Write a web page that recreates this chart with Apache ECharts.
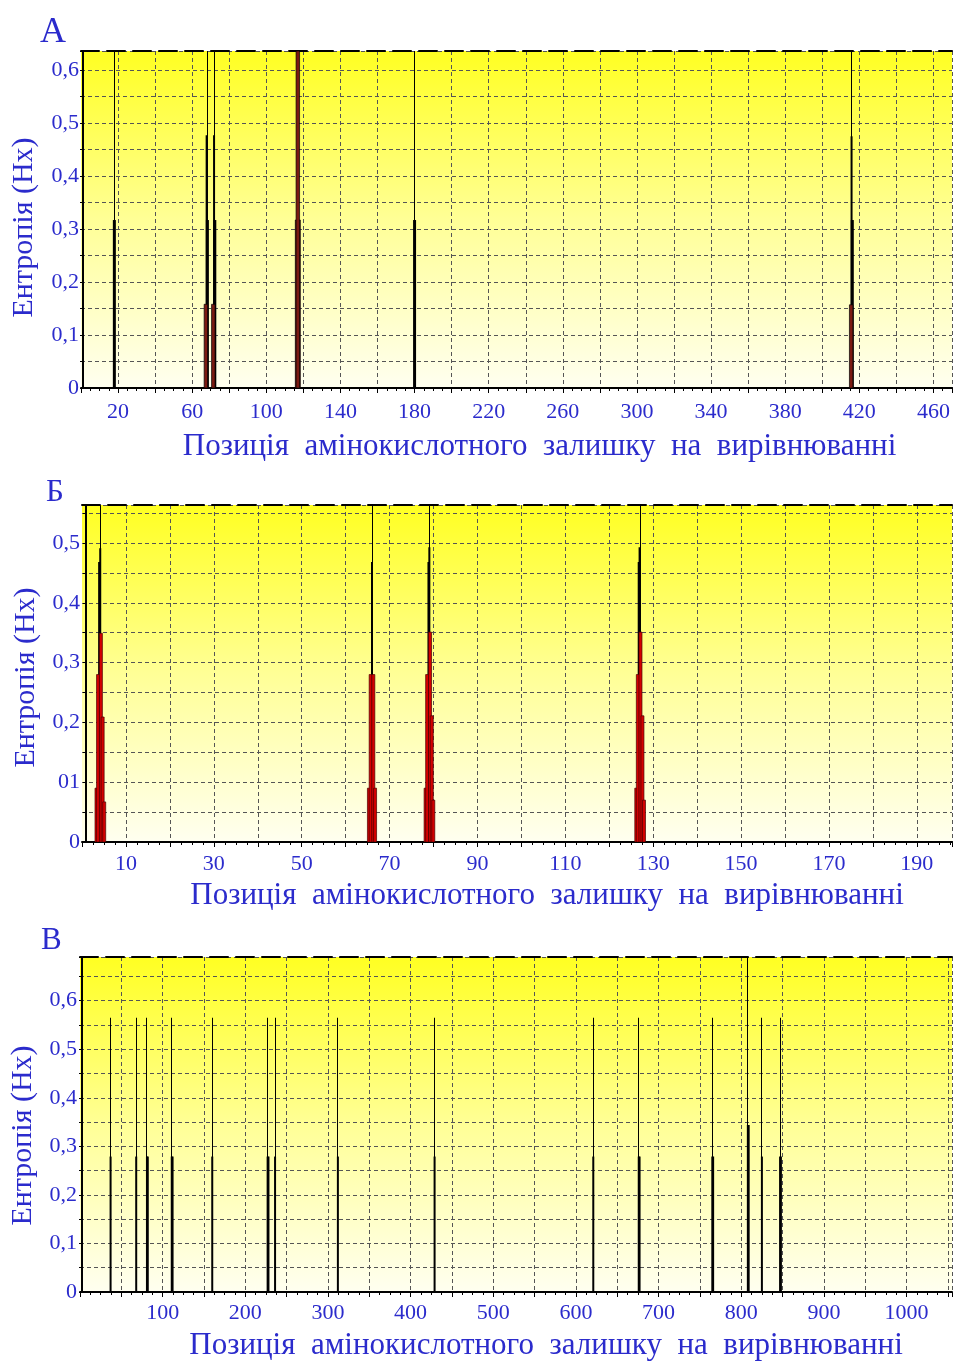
<!DOCTYPE html>
<html>
<head>
<meta charset="utf-8">
<title>Ентропія</title>
<script src="https://cdn.jsdelivr.net/npm/echarts@6/dist/echarts.min.js"></script>
<style>
  html, body { margin: 0; padding: 0; background: #fff; }
  #chart { width: 955px; height: 1362px; }
</style>
</head>
<body>
<div id="chart"></div>
<script>
// ---- Панель А ----
const xLabelsA = [20, 60, 100, 140, 180, 220, 260, 300, 340, 380, 420, 460];
const yTicksA = [0, 0.1, 0.2, 0.3, 0.4, 0.5, 0.6];
const yLabelsA = ['0', '0,1', '0,2', '0,3', '0,4', '0,5', '0,6'];
const lineXA = [18, 68, 72, 180, 416];
const lineYA = [0.636, 0.636, 0.636, 0.636, 0.636];
const peakXA = [67.8, 71.8, 415.8];
const peakYA = [0.477, 0.477, 0.475];
const blackXA = [18, 68.2, 72.2, 117, 180, 416.2];
const blackYA = [0.317, 0.317, 0.317, 0.317, 0.317, 0.317];
const redWideXA = [117];
const redWideYA = [0.317];
const redXA = [67.4, 71.4, 117, 415.6];
const redYA = [0.158, 0.158, 0.636, 0.157];

// ---- Панель Б ----
const xLabelsB = [10, 30, 50, 70, 90, 110, 130, 150, 170, 190];
const yTicksB = [0, 0.1, 0.2, 0.3, 0.4, 0.5];
const yLabelsB = ['0', '01', '0,2', '0,3', '0,4', '0,5'];
const lineXB = [4.1, 66.0, 79.0, 127.0];
const lineYB = [0.563, 0.563, 0.563, 0.563];
const blackXB = [3.9, 4.15, 66.0, 78.85, 79.05, 126.7, 126.9];
const blackYB = [0.468, 0.491, 0.468, 0.468, 0.493, 0.468, 0.493];
const redXB = [3.3, 3.65, 4.3, 4.7, 5.05,
               65.3, 65.7, 66.3, 66.7,
               78.2, 78.55, 79.2, 79.6, 79.95,
               126.15, 126.5, 127.1, 127.55, 127.9];
const redYB = [0.09, 0.28, 0.349, 0.209, 0.067,
               0.09, 0.28, 0.28, 0.09,
               0.09, 0.28, 0.351, 0.211, 0.07,
               0.09, 0.28, 0.351, 0.211, 0.07];

// ---- Панель В ----
const xLabelsC = [100, 200, 300, 400, 500, 600, 700, 800, 900, 1000];
const yTicksC = [0, 0.1, 0.2, 0.3, 0.4, 0.5, 0.6];
const yLabelsC = ['0', '0,1', '0,2', '0,3', '0,4', '0,5', '0,6'];
const lineXC = [37, 68, 81, 111, 160, 227, 236, 312, 429, 621, 676, 765, 808, 825, 847];
const lineYC = [0.565, 0.565, 0.565, 0.565, 0.565, 0.565, 0.565, 0.565, 0.565,
                0.565, 0.565, 0.565, 0.69, 0.565, 0.565];
const blackXC = [37, 68, 81, 82, 111, 112, 160, 227, 228, 236, 312, 429, 621,
                 676, 677, 765, 766, 808, 809, 825, 847, 848];
const blackYC = [0.279, 0.279, 0.279, 0.279, 0.279, 0.279, 0.279, 0.279, 0.279, 0.279,
                 0.279, 0.279, 0.279, 0.279, 0.279, 0.279, 0.279, 0.344, 0.344, 0.279,
                 0.279, 0.279];

const BLUE = '#2b2bcc';
const FONT = "'Liberation Serif', 'DejaVu Serif', serif";
const X_NAME = 'Позиція  амінокислотного  залишку  на  вирівнюванні';
const Y_NAME = 'Ентропія (Hx)';

const chart = echarts.init(document.getElementById('chart'));

function pickLabel(ticks, labels) {
  return function (v) {
    for (let i = 0; i < ticks.length; i++) {
      if (Math.abs(v - ticks[i]) < 1e-6) return String(labels[i]);
    }
    return '';
  };
}

function pairs(xs, ys) {
  return xs.map((x, i) => [x, ys[i]]);
}

// вертикальна смужка від нуля до значення
function spike(width, fill, stroke) {
  return function (params, api) {
    const b = api.coord([api.value(0), 0]);
    const t = api.coord([api.value(0), api.value(1)]);
    const x = width <= 1 ? Math.floor(b[0]) : b[0] - width / 2;
    return {
      type: 'rect',
      shape: { x: x, y: t[1], width: width, height: b[1] - t[1] },
      style: { fill: fill, stroke: stroke || null, lineWidth: stroke ? 0.7 : 0 }
    };
  };
}

const gridBg = new echarts.graphic.LinearGradient(0, 0, 0, 1, [
  { offset: 0, color: '#ffff22' },
  { offset: 0.5, color: '#ffff96' },
  { offset: 1, color: '#fffff0' }
]);

const option = {
  animation: false,
  backgroundColor: '#fff',
  title: [],
  grid: [],
  xAxis: [],
  yAxis: [],
  series: []
};

function addPanel(p) {
  const g = option.grid.length;
  option.title.push({
    text: p.letter, left: p.letterLeft, top: p.letterTop, padding: 0,
    textStyle: { color: BLUE, fontFamily: FONT, fontWeight: 'normal', fontSize: p.letterSize }
  });
  option.grid.push({
    left: p.left, top: p.top, right: 0, height: 337,
    show: true, borderWidth: 0, backgroundColor: gridBg
  });
  option.xAxis.push({
    type: 'value', gridIndex: g, position: 'bottom',
    min: 0, max: p.xMax, interval: p.xStep,
    axisLine: { show: true, onZero: false, lineStyle: { color: '#000', width: 2 } },
    axisTick: { show: true, length: 5, lineStyle: { color: '#000' } },
    minorTick: { show: true, splitNumber: 4, length: 3, lineStyle: { color: '#000' } },
    axisLabel: {
      formatter: pickLabel(p.xLabels, p.xLabels),
      color: BLUE, fontFamily: FONT, fontSize: 22, margin: p.xMargin
    },
    splitLine: {
      show: true, showMinLine: false,
      lineStyle: { color: '#555', width: 1, type: [4, 3] }
    },
    name: X_NAME, nameLocation: 'middle', nameGap: p.xNameGap,
    nameTextStyle: {
      color: BLUE, fontFamily: FONT, fontSize: 31,
      padding: [0, 0, 0, p.xNameShift * 2]
    }
  });
  option.xAxis.push({
    type: 'value', gridIndex: g, position: 'top', min: 0, max: p.xMax,
    axisLine: { show: true, onZero: false, lineStyle: { color: '#000', width: 2, type: [18, 8] } },
    axisTick: { show: false },
    axisLabel: { show: false },
    splitLine: { show: false }
  });
  option.yAxis.push({
    type: 'value', gridIndex: g, min: 0, max: p.yMax, interval: 0.05, offset: p.yOffset,
    axisLine: { show: true, lineStyle: { color: '#000', width: 2 } },
    axisTick: { show: true, length: 3, lineStyle: { color: '#000' } },
    axisLabel: {
      formatter: pickLabel(p.yTicks, p.yLabels),
      color: BLUE, fontFamily: FONT, fontSize: 22, margin: p.yMargin,
      padding: [0, 0, p.yLift, 0]
    },
    splitLine: { show: true, lineStyle: { color: '#555', width: 1, type: [4, 3] } },
    name: Y_NAME, nameLocation: 'middle', nameGap: p.yNameGap,
    nameTextStyle: {
      color: BLUE, fontFamily: FONT, fontSize: 30,
      padding: [0, p.yNameShift * 2, 0, 0]
    }
  });
  p.layers.forEach((layer, i) => {
    option.series.push({
      type: 'custom', xAxisIndex: g * 2, yAxisIndex: g,
      clip: true, silent: true, z: 2 + i,
      renderItem: spike(layer.width, layer.fill, layer.stroke),
      data: pairs(layer.xs, layer.ys)
    });
  });
}

addPanel({
  letter: 'А', letterLeft: 40, letterTop: 15, letterSize: 36,
  left: 81, top: 51, xMax: 470, xStep: 20, yMax: 0.636, yOffset: -2,
  xLabels: xLabelsA, yTicks: yTicksA, yLabels: yLabelsA,
  xMargin: 13, yMargin: 4, yLift: 8, xNameGap: 43, xNameShift: 23,
  yNameGap: 44, yNameShift: 8,
  layers: [
    { xs: lineXA, ys: lineYA, width: 1, fill: '#000' },
    { xs: peakXA, ys: peakYA, width: 2, fill: '#000' },
    { xs: blackXA, ys: blackYA, width: 3, fill: '#000' },
    { xs: redWideXA, ys: redWideYA, width: 5, fill: '#7a1a12', stroke: '#000' },
    { xs: redXA, ys: redYA, width: 3.5, fill: '#7a1a12', stroke: '#000' }
  ]
});

addPanel({
  letter: 'Б', letterLeft: 46, letterTop: 477, letterSize: 31,
  left: 82, top: 505, xMax: 198, xStep: 10, yMax: 0.5635, yOffset: -4,
  xLabels: xLabelsB, yTicks: yTicksB, yLabels: yLabelsB,
  xMargin: 11, yMargin: 6, yLift: 11, xNameGap: 38, xNameShift: 30,
  yNameGap: 42, yNameShift: 4,
  layers: [
    { xs: lineXB, ys: lineYB, width: 1, fill: '#000' },
    { xs: blackXB, ys: blackYB, width: 2, fill: '#000' },
    { xs: redXB, ys: redYB, width: 3, fill: '#d40000', stroke: '#4a0000' }
  ]
});

addPanel({
  letter: 'В', letterLeft: 41, letterTop: 925, letterSize: 31,
  left: 80, top: 957, xMax: 1055, xStep: 50, yMax: 0.69, yOffset: -2,
  xLabels: xLabelsC, yTicks: yTicksC, yLabels: yLabelsC,
  xMargin: 10, yMargin: 5, yLift: 11, xNameGap: 38, xNameShift: 30,
  yNameGap: 38, yNameShift: 11,
  layers: [
    { xs: lineXC, ys: lineYC, width: 1, fill: '#000' },
    { xs: blackXC, ys: blackYC, width: 2, fill: '#000' }
  ]
});

chart.setOption(option);
</script>
</body>
</html>
